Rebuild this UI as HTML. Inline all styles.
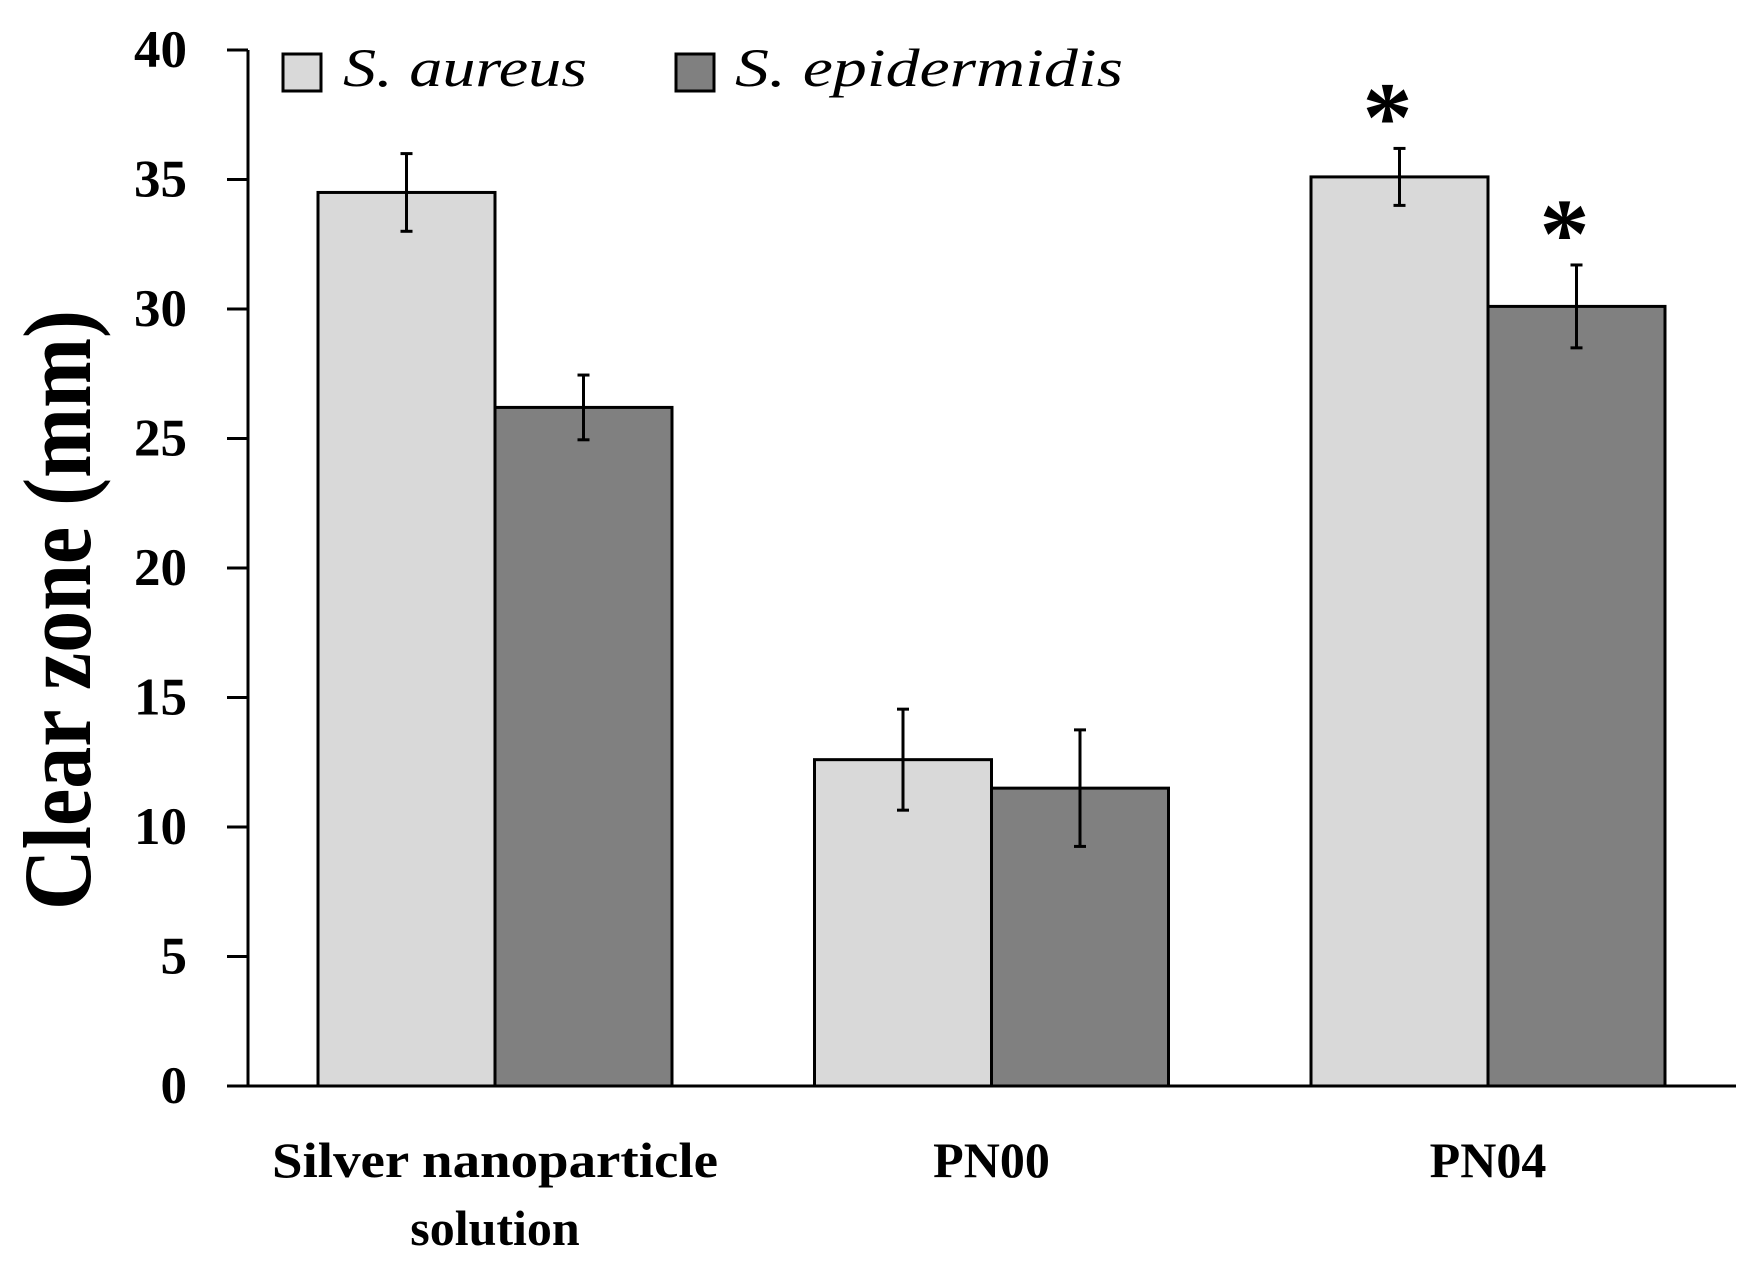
<!DOCTYPE html>
<html><head><meta charset="utf-8"><style>
html,body{margin:0;padding:0;background:#fff;}
svg{display:block;font-family:"Liberation Serif",serif;}
</style></head><body>
<svg id="chart" width="1757" height="1266" viewBox="0 0 1757 1266" xmlns="http://www.w3.org/2000/svg">
<g id="plot"></g>
<text transform="translate(90,610) rotate(-90)" text-anchor="middle" font-weight="bold" font-size="96" textLength="600" lengthAdjust="spacingAndGlyphs">Clear zone (mm)</text>
<g>
<rect x="283" y="54" width="38" height="37" fill="#d9d9d9" stroke="#000" stroke-width="3"/>
<text x="343" y="86" font-style="italic" font-size="54" textLength="244" lengthAdjust="spacingAndGlyphs">S. aureus</text>
<rect x="676" y="54" width="38" height="37" fill="#808080" stroke="#000" stroke-width="3"/>
<text x="735" y="86" font-style="italic" font-size="54" textLength="388" lengthAdjust="spacingAndGlyphs">S. epidermidis</text>
</g>
</svg>
<script>
const categories = ["Silver nanoparticle|solution", "PN00", "PN04"];
const aureusValues = [34.5, 12.6, 35.1];
const aureusErrors = [1.5, 1.95, 1.1];
const epiValues = [26.2, 11.5, 30.1];
const epiErrors = [1.25, 2.25, 1.6];
const aureusSig = [false, false, true];
const epiSig = [false, false, true];
const yTicks = [0, 5, 10, 15, 20, 25, 30, 35, 40];

const NS = "http://www.w3.org/2000/svg";
const plot = document.getElementById('plot');
const y0 = 1086, yUnit = 25.9;
const yScale = v => y0 - v * yUnit;
const axisX = 248, groupStart = 495, groupStep = 496.5, barW = 177;
const xCenter = i => groupStart + i * groupStep;
function mk(tag, attrs, parent) {
  const e = document.createElementNS(NS, tag);
  for (const k in attrs) e.setAttribute(k, attrs[k]);
  (parent || plot).appendChild(e);
  return e;
}
// bars
const series = [
  {vals: aureusValues, errs: aureusErrors, sig: aureusSig, fill: "#d9d9d9", off: -1, name: "s-aureus"},
  {vals: epiValues, errs: epiErrors, sig: epiSig, fill: "#808080", off: 0, name: "s-epidermidis"}
];
series.forEach(s => {
  s.vals.forEach((v, i) => {
    const x = xCenter(i) + s.off * barW;
    const r = mk('rect', {x: x, y: yScale(v), width: barW, height: y0 - yScale(v), fill: s.fill, stroke: "#000", "stroke-width": 3});
    
    
  });
});
series.forEach(s => {
  s.vals.forEach((v, i) => {
    const cx = xCenter(i) + s.off * barW + barW / 2;
    const top = yScale(v + s.errs[i]), bot = yScale(v - s.errs[i]);
    const g = mk('g', {stroke: "#000", "stroke-width": 3});
    
    
    mk('line', {x1: cx, x2: cx, y1: top, y2: bot}, g);
    mk('line', {x1: cx - 6, x2: cx + 6, y1: top, y2: top}, g);
    mk('line', {x1: cx - 6, x2: cx + 6, y1: bot, y2: bot}, g);
    if (s.sig[i]) {
      const t = mk('text', {x: cx - 12, y: top + 2, "text-anchor": "middle", "font-size": 100, "font-weight": "bold"});
      t.textContent = "*";
      
      
    }
  });
});
// axes
const ya = mk('line', {x1: axisX, x2: axisX, y1: yScale(40), y2: y0, stroke: "#000", "stroke-width": 3});


const xa = mk('line', {x1: 228, x2: 1736, y1: y0, y2: y0, stroke: "#000", "stroke-width": 3});


yTicks.forEach(t => {
  const y = yScale(t);
  const l = mk('line', {x1: axisX - 21, x2: axisX, y1: y, y2: y, stroke: "#000", "stroke-width": 3});
  
  
  const tx = mk('text', {x: 187, y: y + 17, "text-anchor": "end", "font-size": 53, "font-weight": "bold"});
  tx.textContent = String(t);
  
  
});
categories.forEach((c, i) => {
  const lines = c.split('|');
  lines.forEach((ln, j) => {
    const tx = mk('text', {x: xCenter(i), y: 1177 + j * 68, "text-anchor": "middle", "font-size": 50, "font-weight": "bold"});
    tx.textContent = ln;
    if (ln === "Silver nanoparticle") { tx.setAttribute('textLength', 446); tx.setAttribute('lengthAdjust', 'spacingAndGlyphs'); }
    
    
  });
});
</script>
</body></html>
